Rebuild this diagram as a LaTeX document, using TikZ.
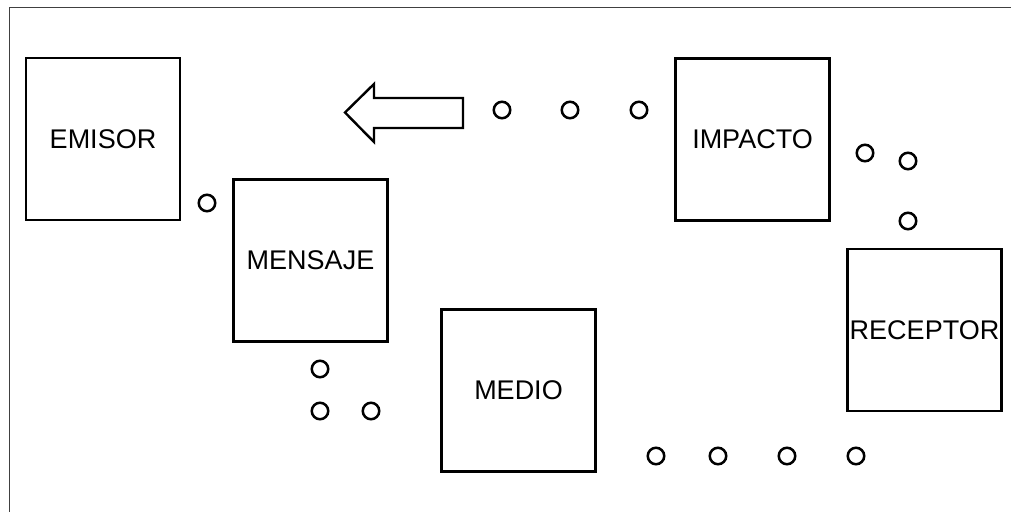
\documentclass[tikz,border=0pt]{standalone}
\usepackage{fontspec}
\setmainfont{Liberation Sans}
\begin{document}
\begin{tikzpicture}[x=1bp,y=-1bp,
  stage/.style={draw=black, line width=2.6bp, minimum width=154bp, minimum height=162bp,
    inner sep=0pt, font=\fontsize{27bp}{31bp}\selectfont},
  dot/.style={circle, draw=black, line width=2.5bp, minimum size=16.5bp, inner sep=0pt},
  frameline/.style={draw=black!75, line width=1bp}]
  \useasboundingbox (0,0) rectangle (1011,512);
  % outer frame (only the top and left edges fall inside the page)
  \coordinate (fbl) at (9,520);
  \coordinate (ftl) at (9,7.5);
  \coordinate (ftr) at (1020,7.5);
  \draw[frameline] (fbl) -- (ftl) -- (ftr);

  % stages of the communication cycle
  \node[stage] (emisor)   at (103,139)   {EMISOR};
  \node[stage] (mensaje)  at (310.5,260.5) {MENSAJE};
  \node[stage] (medio)    at (518.5,390.5) {MEDIO};
  \node[stage] (receptor) at (924.5,330)   {RECEPTOR};
  \node[stage] (impacto)  at (752.5,139.5) {IMPACTO};

  % small circles marking the path between stages
  \node[dot] (d1)  at (207,203) {};
  \node[dot] (d2)  at (320,369) {};
  \node[dot] (d3)  at (320,411) {};
  \node[dot] (d4)  at (371,411) {};
  \node[dot] (d5)  at (656,456) {};
  \node[dot] (d6)  at (718,456) {};
  \node[dot] (d7)  at (787,456) {};
  \node[dot] (d8)  at (856,456) {};
  \node[dot] (d9)  at (908,221) {};
  \node[dot] (d10) at (908,161) {};
  \node[dot] (d11) at (865,153) {};
  \node[dot] (d12) at (639,110) {};
  \node[dot] (d13) at (570,110) {};
  \node[dot] (d14) at (502,110) {};

  % hollow arrow pointing back towards the sender
  \draw[line width=2.4bp, line join=miter]
    (463,98) -- (374,98) -- (374,84) -- (345,112.5) -- (374,142) -- (374,128) -- (463,128) -- cycle;
\end{tikzpicture}
\end{document}
